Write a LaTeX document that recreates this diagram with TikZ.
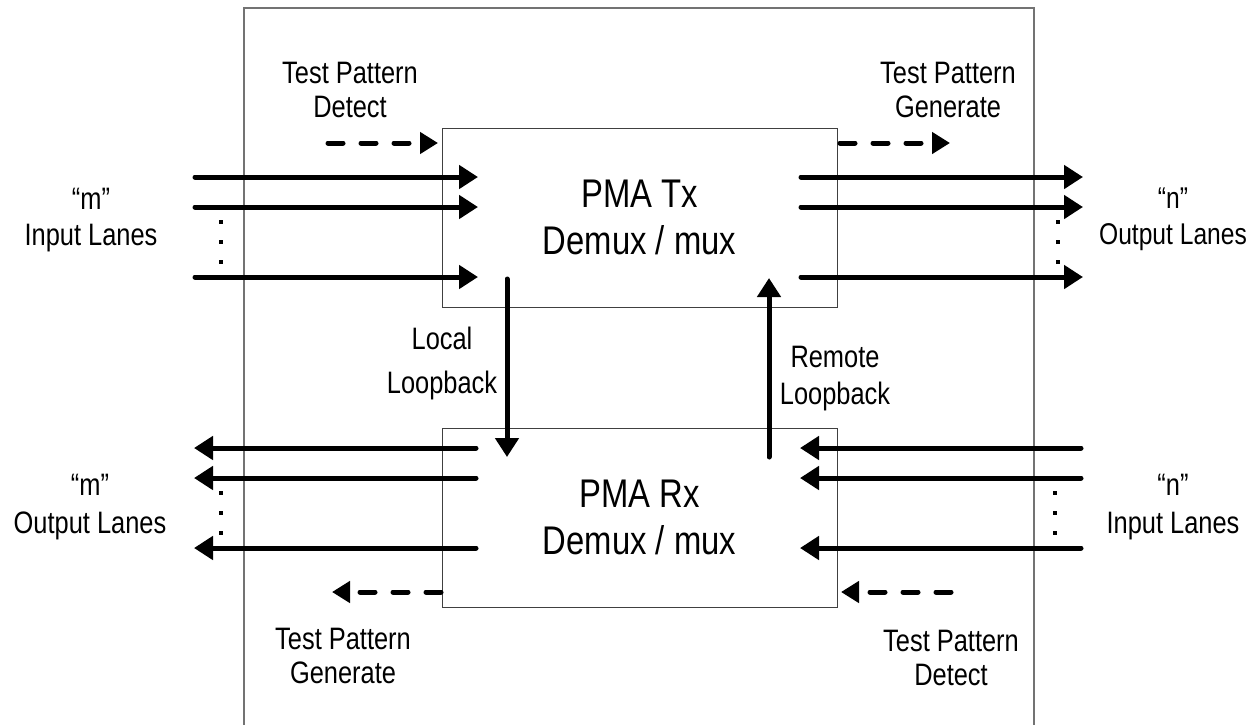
\documentclass[tikz,border=0pt]{standalone}
\usepackage{fontspec}
\setmainfont{Liberation Sans}[FakeStretch=0.82]
\usetikzlibrary{arrows.meta}
\begin{document}
\begin{tikzpicture}[x=1pt,y=-1pt,
  box/.style={draw=black!75,line width=1pt,minimum width=395pt,minimum height=179pt,inner sep=0pt,align=center,font=\fontsize{40}{47}\selectfont},
  lane/.style={line width=5pt,line cap=round,-{Triangle[length=19pt,width=23pt]}},
  tpat/.style={line width=5pt,line cap=round,dash pattern=on 15pt off 18pt,-{Triangle[length=18pt,width=21pt]}},
  lbl/.style={align=center,inner sep=0pt,anchor=base,font=\fontsize{31}{34}\selectfont},
  dotsq/.style={fill=black}]
\useasboundingbox (0,0) rectangle (1249,724);
\fill[white] (0,0) rectangle (1249,724);
% outer frame
\draw[black!55,line width=1.5pt] (244,730) -- (244,8) -- (1034,8) -- (1034,730);
% boxes
\node[box] (tx) at (639.5,217.5) {PMA Tx\\Demux / mux};
\node[box] (rx) at (639.5,517.5) {PMA Rx\\Demux / mux};
% lanes
\foreach \y [count=\i] in {177,207,277} {
  \coordinate (inL\i) at (195,\y); \coordinate (inR\i) at (478,\y);
  \draw[lane] (inL\i) -- (inR\i);
  \coordinate (outL\i) at (801,\y); \coordinate (outR\i) at (1083,\y);
  \draw[lane] (outL\i) -- (outR\i);
}
\foreach \y [count=\i] in {448,478,548} {
  \coordinate (rinR\i) at (476,\y); \coordinate (rinL\i) at (194,\y);
  \draw[lane] (rinR\i) -- (rinL\i);
  \coordinate (rxR\i) at (1081,\y); \coordinate (rxL\i) at (800,\y);
  \draw[lane] (rxR\i) -- (rxL\i);
}
% dots
\foreach \x/\ys in {221/{222,242,262},1058/{222,242,262},221/{493,513,533},1055/{493,513,533}} {
  \foreach \y in \ys { \fill[dotsq] (\x-2.2,\y-2.2) rectangle (\x+2.2,\y+2.2); }
}
% loopbacks
\coordinate (lbA) at (507,279); \coordinate (lbB) at (507,457);
\draw[lane] (lbA) -- (lbB);
\coordinate (rbA) at (769,457); \coordinate (rbB) at (769,278);
\draw[lane] (rbA) -- (rbB);
% test pattern arrows
\coordinate (d1a) at (328,143); \coordinate (d1b) at (438,143);
\draw[tpat] (d1a) -- (d1b);
\coordinate (d2a) at (840,143); \coordinate (d2b) at (950,143);
\draw[tpat] (d2a) -- (d2b);
\coordinate (d3a) at (441,592); \coordinate (d3b) at (332,592);
\draw[tpat] (d3a) -- (d3b);
\coordinate (d4a) at (951,592); \coordinate (d4b) at (841,592);
\draw[tpat] (d4a) -- (d4b);
% labels
\node[lbl] (t1) at (350,117) {Test Pattern\\Detect};
\node[lbl] (t2) at (948,117) {Test Pattern\\Generate};
\node[lbl] (t3) at (343,683) {Test Pattern\\Generate};
\node[lbl] (t4) at (951,685) {Test Pattern\\Detect};
\node[lbl,font=\fontsize{31}{36}\selectfont] (s1) at (91,245) {“m”\\Input Lanes};
\node[lbl,font=\fontsize{30}{36}\selectfont] (s2) at (1173,244) {“n”\\Output Lanes};
\node[lbl,font=\fontsize{31}{38}\selectfont] (s3) at (90,533) {“m”\\Output Lanes};
\node[lbl,font=\fontsize{31}{38}\selectfont] (s4) at (1173,533) {“n”\\Input Lanes};
\node[lbl,font=\fontsize{31}{44}\selectfont] (l1) at (442,393) {Local\\Loopback};
\node[lbl,font=\fontsize{31}{37}\selectfont] (l2) at (835,404) {Remote\\Loopback};
\end{tikzpicture}
\end{document}
